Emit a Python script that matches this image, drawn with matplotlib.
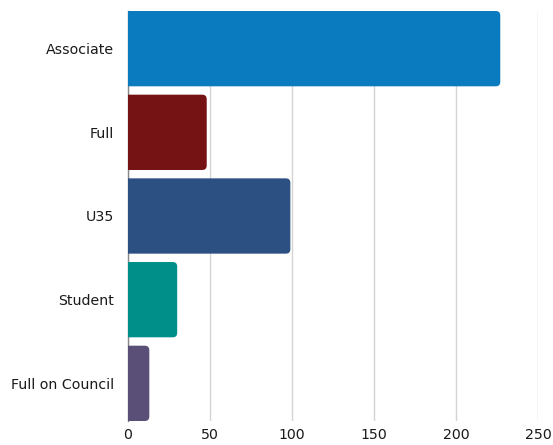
import matplotlib
matplotlib.use("Agg")
import matplotlib.pyplot as plt
from matplotlib.patches import FancyBboxPatch

categories = ["Associate", "Full", "U35", "Student", "Full on Council"]
values = [227, 48, 99, 30, 13]
colors = ["#0b7bbf", "#741214", "#2c5081", "#009089", "#5a5077"]
xticks = [0, 50, 100, 150, 200, 250]

W, H = 553, 445
top_px, bot_px = 11, 421
fig = plt.figure(figsize=(W / 100, H / 100), dpi=100)
ax = fig.add_axes([128 / W, (H - bot_px) / H, (538 - 128) / W, (bot_px - top_px) / H])

n = len(categories)
bh = 0.9
ax.set_xlim(0, 250)
ax.set_ylim(n - 1 + bh / 2, -bh / 2)

px_per_x = 410 / 250
px_per_y = (bot_px - top_px) / (n - 1 + bh)
r_px = 4.5
rx = r_px / px_per_x
aspect = (r_px / px_per_y) / rx
for i, (v, c) in enumerate(zip(values, colors)):
    p = FancyBboxPatch((-10, i - bh / 2), v + 10, bh,
                       boxstyle=f"round,pad=0,rounding_size={rx}",
                       mutation_aspect=aspect, facecolor=c, edgecolor="none",
                       zorder=2)
    ax.add_patch(p)

ax.set_yticks(range(n))
ax.set_yticklabels(categories)
ax.set_xticks(xticks)
ax.set_xticklabels([str(t) for t in xticks])
ax.tick_params(axis="both", length=0, labelsize=10.2, colors="#1a1a1a")
ax.tick_params(axis="y", pad=10)
ax.tick_params(axis="x", pad=5)
for t in ax.get_xticklabels() + ax.get_yticklabels():
    t.set_fontfamily("DejaVu Sans")

ax.grid(axis="x", color="#d4d4d4", linewidth=1, zorder=0)
ax.set_axisbelow(True)
for s in ["top", "right", "bottom"]:
    ax.spines[s].set_visible(False)
ax.spines["left"].set_color("#888888")
ax.spines["left"].set_linewidth(1)
ax.spines["left"].set_zorder(1)

fig.savefig("out.png", dpi=100)
